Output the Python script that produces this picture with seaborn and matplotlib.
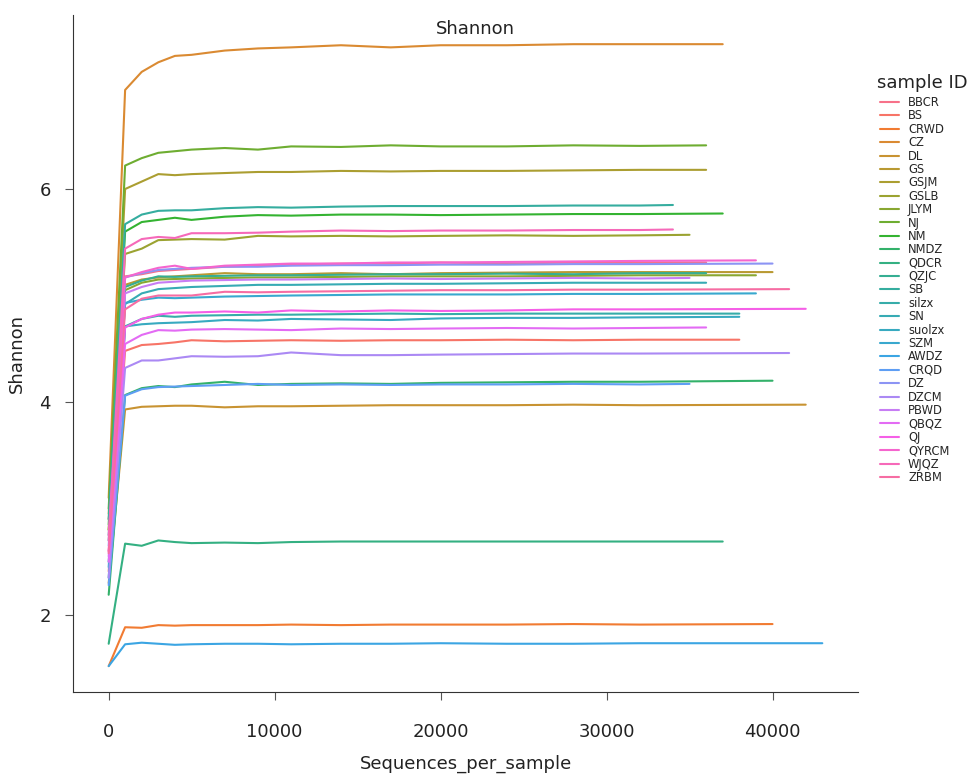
import numpy as np
import pandas as pd
import matplotlib
matplotlib.use("Agg")
import matplotlib.pyplot as plt
import seaborn as sns

# rarefaction depths shared by all samples, the last point is each sample's max depth
depth_grid = [10, 1000, 2000, 3000, 4000, 5000, 7000, 9000, 11000, 14000, 17000, 20000, 24000, 28000, 32000]

samples = ["BBCR", "BS", "CRWD", "CZ", "DL", "GS", "GSJM", "GSLB", "JLYM", "NJ", "NM", "NMDZ",
           "QDCR", "QZJC", "SB", "silzx", "SN", "suolzx", "SZM", "AWDZ", "CRQD", "DZ", "DZCM",
           "PBWD", "QBQZ", "QJ", "QYRCM", "WJQZ", "ZRBM"]
max_depth = [36000, 38000, 40000, 37000, 42000, 40000, 36000, 35000, 39000, 36000, 37000, 40000,
             37000, 36000, 34000, 38000, 36000, 38000, 39000, 43000, 35000, 40000, 41000,
             35000, 36000, 42000, 39000, 34000, 41000]

# shannon values at depth_grid + max depth
BBCR = [2.60, 5.18, 5.20, 5.23, 5.24, 5.25, 5.27, 5.28, 5.29, 5.30, 5.30, 5.31, 5.30, 5.31, 5.31, 5.31]
BS = [2.41, 4.48, 4.535, 4.545, 4.56, 4.58, 4.57, 4.575, 4.58, 4.575, 4.58, 4.58, 4.585, 4.58, 4.585, 4.585]
CRWD = [1.52, 1.885, 1.88, 1.905, 1.90, 1.905, 1.905, 1.905, 1.91, 1.905, 1.91, 1.91, 1.91, 1.915, 1.91, 1.915]
CZ = [3.10, 6.93, 7.10, 7.19, 7.25, 7.26, 7.30, 7.32, 7.33, 7.35, 7.33, 7.35, 7.35, 7.36, 7.36, 7.36]
DL = [2.30, 3.93, 3.955, 3.96, 3.965, 3.965, 3.95, 3.96, 3.96, 3.965, 3.97, 3.97, 3.97, 3.975, 3.97, 3.975]
GS = [2.90, 5.10, 5.15, 5.17, 5.18, 5.19, 5.21, 5.20, 5.20, 5.21, 5.20, 5.21, 5.215, 5.22, 5.22, 5.22]
GSJM = [2.95, 6.00, 6.07, 6.14, 6.13, 6.14, 6.15, 6.16, 6.16, 6.17, 6.165, 6.17, 6.17, 6.175, 6.18, 6.18]
GSLB = [2.80, 5.39, 5.44, 5.52, 5.525, 5.53, 5.525, 5.56, 5.555, 5.56, 5.555, 5.56, 5.565, 5.56, 5.565, 5.57]
JLYM = [2.80, 5.05, 5.12, 5.15, 5.155, 5.16, 5.165, 5.17, 5.17, 5.175, 5.18, 5.18, 5.18, 5.185, 5.19, 5.19]
NJ = [3.00, 6.22, 6.29, 6.34, 6.355, 6.37, 6.385, 6.37, 6.40, 6.395, 6.41, 6.40, 6.40, 6.41, 6.405, 6.41]
NM = [2.85, 5.60, 5.69, 5.71, 5.73, 5.71, 5.74, 5.755, 5.75, 5.76, 5.76, 5.755, 5.76, 5.765, 5.765, 5.77]
NMDZ = [2.19, 4.065, 4.13, 4.15, 4.14, 4.165, 4.19, 4.16, 4.17, 4.175, 4.17, 4.18, 4.185, 4.19, 4.19, 4.20]
QDCR = [1.73, 2.67, 2.65, 2.70, 2.685, 2.675, 2.68, 2.675, 2.685, 2.69, 2.69, 2.69, 2.69, 2.69, 2.69, 2.69]
QZJC = [2.75, 5.08, 5.14, 5.18, 5.175, 5.18, 5.185, 5.19, 5.19, 5.195, 5.20, 5.20, 5.205, 5.20, 5.21, 5.21]
SB = [2.90, 5.67, 5.76, 5.795, 5.80, 5.80, 5.82, 5.83, 5.825, 5.835, 5.84, 5.84, 5.84, 5.845, 5.845, 5.85]
silzx = [2.50, 4.71, 4.78, 4.81, 4.80, 4.81, 4.815, 4.82, 4.82, 4.825, 4.83, 4.825, 4.83, 4.83, 4.83, 4.83]
SN = [2.70, 4.92, 5.02, 5.06, 5.07, 5.08, 5.09, 5.10, 5.10, 5.105, 5.11, 5.11, 5.115, 5.12, 5.12, 5.12]
suolzx = [2.35, 4.71, 4.73, 4.74, 4.745, 4.75, 4.77, 4.765, 4.78, 4.775, 4.77, 4.785, 4.79, 4.79, 4.795, 4.80]
SZM = [2.45, 4.93, 4.96, 4.98, 4.975, 4.98, 4.99, 4.995, 5.00, 5.005, 5.01, 5.01, 5.01, 5.015, 5.015, 5.02]
AWDZ = [1.52, 1.725, 1.74, 1.73, 1.72, 1.725, 1.73, 1.73, 1.725, 1.73, 1.73, 1.735, 1.73, 1.73, 1.735, 1.735]
CRQD = [2.28, 4.06, 4.12, 4.14, 4.145, 4.15, 4.16, 4.17, 4.16, 4.165, 4.16, 4.165, 4.165, 4.17, 4.165, 4.17]
DZ = [2.65, 5.17, 5.21, 5.24, 5.25, 5.26, 5.27, 5.27, 5.28, 5.285, 5.285, 5.29, 5.29, 5.295, 5.295, 5.30]
DZCM = [2.35, 4.32, 4.39, 4.39, 4.41, 4.43, 4.425, 4.43, 4.465, 4.44, 4.44, 4.445, 4.45, 4.455, 4.455, 4.46]
PBWD = [2.55, 5.02, 5.08, 5.12, 5.13, 5.14, 5.145, 5.15, 5.15, 5.155, 5.16, 5.155, 5.16, 5.165, 5.16, 5.165]
QBQZ = [2.50, 4.545, 4.63, 4.675, 4.67, 4.68, 4.685, 4.68, 4.675, 4.69, 4.685, 4.69, 4.695, 4.69, 4.695, 4.70]
QJ = [2.60, 4.70, 4.78, 4.82, 4.84, 4.84, 4.85, 4.84, 4.86, 4.85, 4.86, 4.855, 4.86, 4.87, 4.87, 4.875]
QYRCM = [2.75, 5.17, 5.22, 5.26, 5.28, 5.25, 5.28, 5.29, 5.30, 5.30, 5.31, 5.31, 5.315, 5.32, 5.325, 5.33]
WJQZ = [2.70, 5.44, 5.53, 5.55, 5.54, 5.585, 5.585, 5.59, 5.60, 5.61, 5.605, 5.61, 5.61, 5.615, 5.615, 5.62]
ZRBM = [2.58, 4.87, 4.97, 5.00, 5.00, 5.00, 5.035, 5.03, 5.035, 5.04, 5.045, 5.05, 5.05, 5.055, 5.055, 5.06]

series = [BBCR, BS, CRWD, CZ, DL, GS, GSJM, GSLB, JLYM, NJ, NM, NMDZ, QDCR, QZJC, SB, silzx,
          SN, suolzx, SZM, AWDZ, CRQD, DZ, DZCM, PBWD, QBQZ, QJ, QYRCM, WJQZ, ZRBM]

rows = []
for name, md, vals in zip(samples, max_depth, series):
    for d, v in zip(depth_grid + [md], vals):
        rows.append({"sample ID": name, "Sequences_per_sample": d, "Shannon": v})
df = pd.DataFrame(rows)

sns.set_style("ticks")
plt.rcParams['font.family'] = ['DejaVu Sans']

fig = plt.figure(figsize=(9.68, 7.74), dpi=100)
ax = fig.add_axes([73/968, 82/774, 785/968, 677/774])

sns.lineplot(data=df, x="Sequences_per_sample", y="Shannon", hue="sample ID",
             palette="husl", linewidth=1.5, errorbar=None, ax=ax)

ax.set_ylim(1.277, 7.634)
ax.set_yticks([2, 4, 6])
ax.set_xticks([0, 10000, 20000, 30000, 40000])
ax.tick_params(labelsize=13, length=6, color="#555555", labelcolor="#222222")
ax.tick_params(axis="y", pad=10)
ax.tick_params(axis="x", pad=16)
ax.set_xlabel("Sequences_per_sample", fontsize=13, color="#222222", labelpad=10)
ax.set_ylabel("Shannon", fontsize=13, color="#222222", labelpad=10)
for s in ["left", "bottom"]:
    ax.spines[s].set_color("#333333")
sns.despine(ax=ax)

ax.text(0.513, 0.993, "Shannon", transform=ax.transAxes, ha="center", va="top",
        fontsize=13, color="#222222")

handles, labels = ax.get_legend_handles_labels()
ax.get_legend().remove()
fig.text(877/968, 1 - 83/774, "sample ID", ha="left", va="center", fontsize=13, color="#222222")
leg = fig.legend(handles, labels, loc="upper left",
                 bbox_to_anchor=(880/968, 1 - 96/774), frameon=False,
                 fontsize=8.3, labelspacing=0.034,
                 handlelength=1.65, handletextpad=0.78, borderpad=0,
                 borderaxespad=0)

fig.savefig("out.png", dpi=100)
